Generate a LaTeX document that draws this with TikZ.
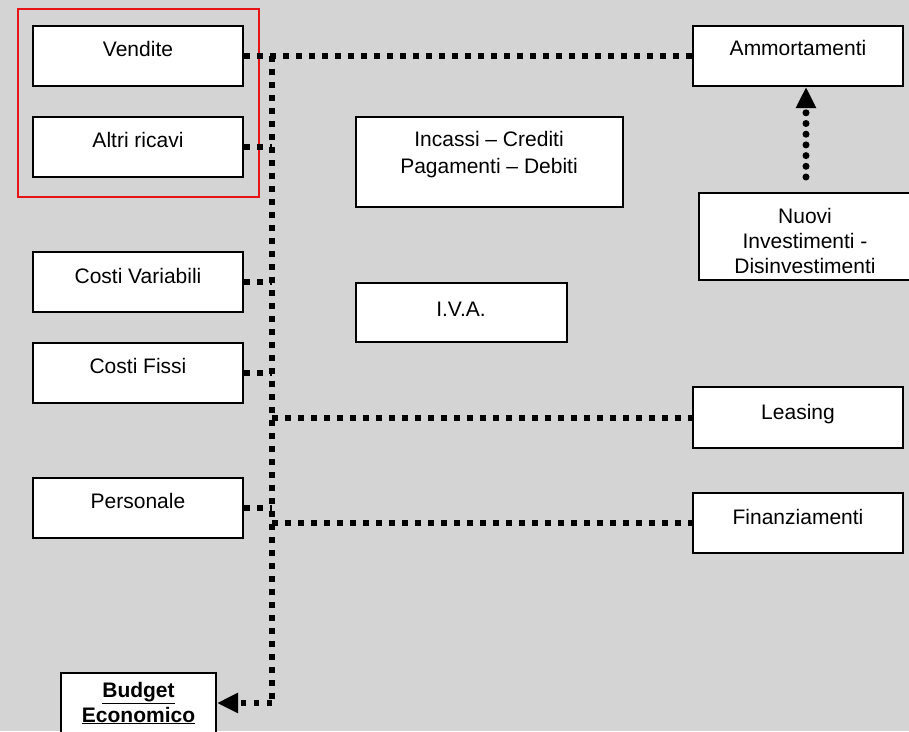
\documentclass[tikz,border=0pt]{standalone}
\usepackage{fontspec}
\setmainfont{Liberation Sans}
\usetikzlibrary{arrows.meta}
\definecolor{bgdots}{gray}{0.83}
\definecolor{framered}{RGB}{230,20,20}
\begin{document}
\begin{tikzpicture}[x=1pt,y=-1pt,
  box/.style={draw=black, line width=2pt, fill=white, inner sep=0pt},
  txt/.style={inner sep=0pt, anchor=base, font=\fontsize{21}{25}\selectfont},
  sqdot/.style={line width=6pt, line cap=butt, dash pattern=on 5.5pt off 7.5pt},
  rddot/.style={line width=7pt, line cap=round, dash pattern=on 0pt off 10.7pt},
  tip/.style={-{Triangle[length=21pt,width=19pt]}}]
  % page and halftone background
  \fill[bgdots] (0,0) rectangle (909,731);
  \useasboundingbox (0,0) rectangle (909,731);

  % revenue group frame
  \draw[framered, line width=1.5pt] (18,9) rectangle (259,197);

  % connector junctions on the vertical trunk
  \coordinate (trunktop) at (272,56);
  \coordinate (trunkbot) at (272,703);
  \coordinate (upstart) at (806,177);

  % left column
  \node[box, minimum width=210pt, minimum height=60pt] (vendite) at (138,56) {};
  \node[box, minimum width=210pt, minimum height=60pt] (altri) at (138,147) {};
  \node[box, minimum width=210pt, minimum height=60pt] (costivar) at (138,282) {};
  \node[box, minimum width=210pt, minimum height=60pt] (costifissi) at (138,373) {};
  \node[box, minimum width=210pt, minimum height=60pt] (personale) at (138,508) {};
  \node[box, minimum width=155pt, minimum height=72pt] (budget) at (138.5,709) {};

  % middle column
  \node[box, minimum width=267pt, minimum height=90pt] (incassi) at (489.5,162) {};
  \node[box, minimum width=211pt, minimum height=59pt] (iva) at (461.5,312.5) {};

  % right column
  \node[box, minimum width=210pt, minimum height=60pt] (ammort) at (798,56) {};
  \node[box, minimum width=216pt, minimum height=87pt] (nuovi) at (807,236.5) {};
  \node[box, minimum width=210pt, minimum height=61pt] (leasing) at (798,417.5) {};
  \node[box, minimum width=210pt, minimum height=60pt] (finanz) at (798,523) {};

  % labels
  \node[txt] (t-vendite) at (138,56) {Vendite};
  \node[txt] (t-altri) at (138,147) {Altri ricavi};
  \node[txt] (t-costivar) at (138,283) {Costi Variabili};
  \node[txt] (t-costifissi) at (138,373) {Costi Fissi};
  \node[txt] (t-personale) at (138,508) {Personale};
  \node[txt, font=\fontsize{21}{25}\selectfont\bfseries] (t-budget1) at (138.5,697) {\underline{Budget}};
  \node[txt, font=\fontsize{21}{25}\selectfont\bfseries] (t-budget2) at (138.5,722) {\underline{Economico}};
  \node[txt] (t-incassi1) at (489,146) {Incassi -- Crediti};
  \node[txt] (t-incassi2) at (489,173) {Pagamenti -- Debiti};
  \node[txt] (t-iva) at (461,316) {I.V.A.};
  \node[txt] (t-ammort) at (798,55) {Ammortamenti};
  \node[txt] (t-nuovi1) at (805,223) {Nuovi};
  \node[txt] (t-nuovi2) at (805,248) {Investimenti -};
  \node[txt] (t-nuovi3) at (805,273) {Disinvestimenti};
  \node[txt] (t-leasing) at (798,419) {Leasing};
  \node[txt] (t-finanz) at (798,524) {Finanziamenti};

  % dotted connectors
  \draw[sqdot] (vendite.east) -- (ammort.west);
  \draw[sqdot] (trunktop) -- (trunkbot);
  \draw[sqdot] (altri.east) -- (altri.east -| trunktop);
  \draw[sqdot] (costivar.east) -- (costivar.east -| trunktop);
  \draw[sqdot] (costifissi.east) -- (costifissi.east -| trunktop);
  \draw[sqdot] (personale.east) -- (personale.east -| trunktop);
  \draw[sqdot] (leasing.west -| trunktop) -- (leasing.west);
  \draw[sqdot] (finanz.west -| trunktop) -- (finanz.west);
  \draw[sqdot, tip] (trunkbot) -- (budget.east |- trunkbot);

  % investments feed depreciation
  \draw[rddot, tip] (upstart) -- (upstart |- ammort.south);
\end{tikzpicture}
\end{document}
